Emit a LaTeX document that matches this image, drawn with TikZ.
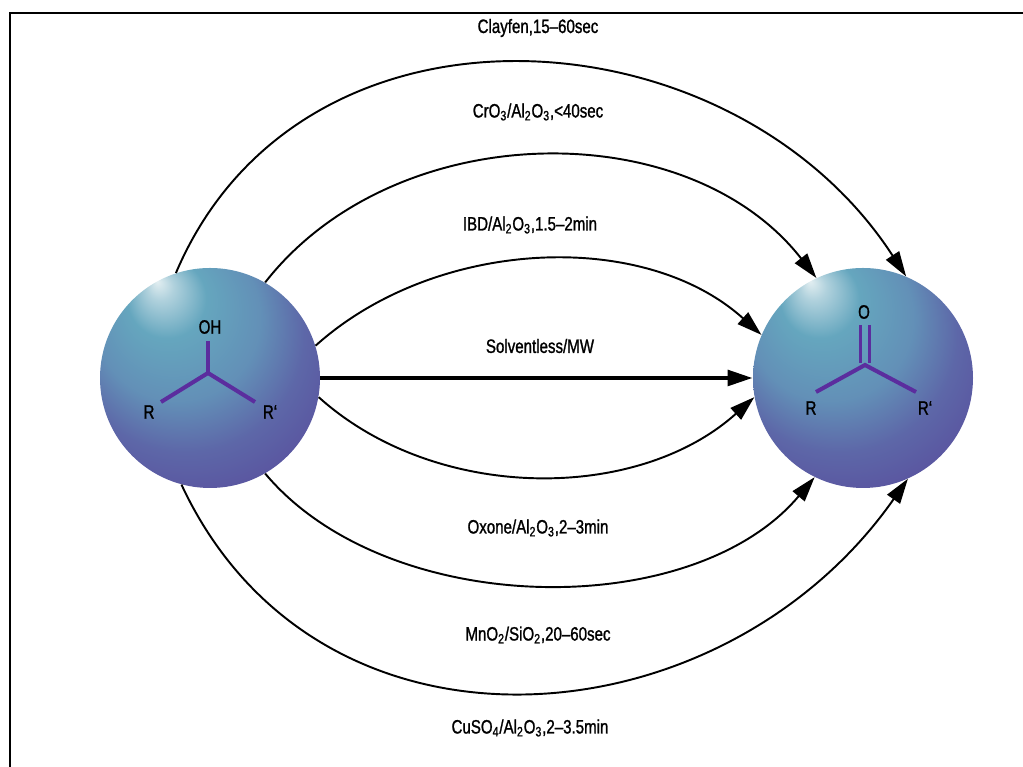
\documentclass[tikz,border=0pt]{standalone}
\usepackage{fontspec}
\setmainfont{Liberation Sans}[FakeStretch=0.78, FakeBold=1.2]
\usetikzlibrary{arrows.meta}

\definecolor{bondviolet}{HTML}{5B2D9E}
\definecolor{ballhl}{HTML}{E2EEF1}
\definecolor{ballteal}{HTML}{65A6BE}
\definecolor{ballblue}{HTML}{6079B0}
\definecolor{ballpurple}{HTML}{5A55A0}

% glossy ball, highlight up and to the left
\pgfdeclareradialshading{glossyball}{\pgfpoint{-12bp}{22bp}}{%
  color(0bp)=(ballhl); color(3bp)=(ballhl!60!ballteal);
  color(9bp)=(ballteal); color(19bp)=(ballteal!50!ballblue);
  color(27bp)=(ballblue!50!ballpurple); color(34bp)=(ballpurple);
  color(50bp)=(ballpurple)}

\tikzset{
  ball/.style={circle, minimum size=4.4cm, inner sep=0pt, shade, shading=glossyball},
  rxn/.style={-{Triangle[length=5mm,width=3.1mm]}, line width=1.1pt},
  cond/.style={font=\fontsize{11}{13}\selectfont},
  bond/.style={bondviolet, line width=2.3pt},
}

\begin{document}
\begin{tikzpicture}
	\useasboundingbox (0,0) rectangle (20.46,15.34);
	\draw[line width=1.3pt] (0.2,0) -- (0.2,15.08) -- (20.46,15.08);

	% alcohol
	\node[ball] (alc) at (4.2,7.78) {};
	\begin{scope}[shift={(alc.center)}]
		\draw[bond] (-0.04,0.74) -- (-0.04,0.1);
		\draw[bond] (-0.98,-0.48) -- (-0.04,0.1) -- (0.9,-0.48);
		\node[cond] (oh) at (0,1.02) {OH};
		\node[cond] (ra) at (-1.22,-0.68) {R};
		\node[cond] (rb) at (1.2,-0.68) {R‘};
	\end{scope}

	% ketone
	\node[ball] (ket) at (17.26,7.78) {};
	\begin{scope}[shift={(ket.center)}]
		\draw[bond, line width=1.7pt] (-0.05,1.06) -- (-0.05,0.3);
		\draw[bond, line width=1.7pt] (0.13,1.06) -- (0.13,0.3);
		\draw[bond] (-0.94,-0.28) -- (0.04,0.26) -- (1.06,-0.28);
		\node[cond] (ox) at (0.02,1.32) {O};
		\node[cond] (rc) at (-1.04,-0.6) {R};
		\node[cond] (rd) at (1.24,-0.6) {R‘};
	\end{scope}

	% reaction arrows
	\draw[rxn] (alc.108) to[out=67,in=123,distance=6.4cm] (ket.67);
	\draw[rxn] (alc.60) to[out=52,in=128,distance=4.2cm] (ket.115);
	\draw[rxn] (alc.17) to[out=42,in=138,distance=3.2cm] (ket.157);
	\draw[rxn, line width=2.3pt] (alc.east) -- (ket.west);
	\draw[rxn] (alc.-10) to[out=-42,in=222,distance=3.15cm] (ket.190);
	\draw[rxn] (alc.-60) to[out=-50,in=230,distance=3.8cm] (ket.244);
	\draw[rxn] (alc.255) to[out=-65,in=235,distance=6.5cm] (ket.294);

	% conditions
	\node[cond] (c1) at (10.76,14.78) {Clayfen,15--60sec};
	\node[cond] (c2) at (10.76,13.10) {CrO\textsubscript{3}/Al\textsubscript{2}O\textsubscript{3},<40sec};
	\node[cond] (c3) at (10.6,10.84) {IBD/Al\textsubscript{2}O\textsubscript{3},1.5--2min};
	\node[cond] (c4) at (10.8,8.42) {Solventless/MW};
	\node[cond] (c5) at (10.76,4.78) {Oxone/Al\textsubscript{2}O\textsubscript{3},2--3min};
	\node[cond] (c6) at (10.76,2.64) {MnO\textsubscript{2}/SiO\textsubscript{2},20--60sec};
	\node[cond] (c7) at (10.6,0.78) {CuSO\textsubscript{4}/Al\textsubscript{2}O\textsubscript{3},2--3.5min};
\end{tikzpicture}
\end{document}
